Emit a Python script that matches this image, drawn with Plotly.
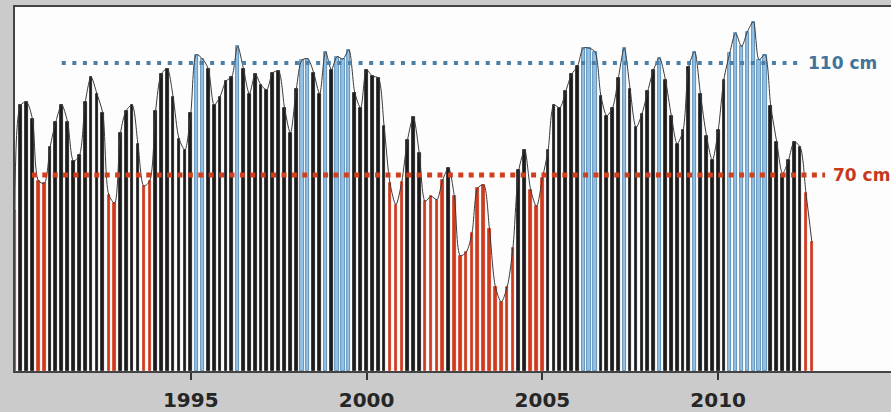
import pandas as pd
import plotly.graph_objects as go

# bimonthly water level (cm), starting Jan 1990
start_date = "1990-01-01"
levels = [
    57, 95, 96, 90, 68, 67, 80, 89, 95, 89, 75, 77,
    96, 105, 99, 92, 63, 60, 85, 93, 95, 81, 66, 68,
    93, 106, 108, 98, 83, 79, 92, 113, 111.5, 108, 95, 98,
    103.5, 105, 116, 108, 99, 106, 102, 100.5, 106.5, 107, 94, 85,
    100.6, 111, 111.5, 106.5, 99, 114, 107.6, 112.3, 111.4, 114.7, 99.4, 94,
    107.6, 105.3, 104.7, 87.6, 67, 59.4, 67.6, 82.4, 90.6, 78, 60.6, 62.4,
    61.2, 68.2, 72.4, 62.4, 41.2, 42.4, 49.4, 65.3, 66.5, 50.6, 30, 24.7,
    30, 44.1, 71.8, 78.8, 64.7, 58.8, 68.8, 78.8, 95, 94, 100, 106,
    108.8, 115.3, 115.3, 114, 98.2, 91.2, 94.1, 104.7, 115.3, 100.6, 87, 91.8,
    100, 107.6, 111.8, 104.1, 91.2, 81.2, 85.9, 108.5, 114, 98.8, 84.1, 75.3,
    85.9, 104.1, 113.5, 120.6, 115.9, 121.2, 124.7, 111.2, 113, 94.7, 81.8, 70.5,
    75.3, 81.8, 80, 63.5, 45.9,
]
high_threshold = 110
low_threshold = 70
tick_years = [1995, 2000, 2005, 2010]
tick_labels = ["1995", "2000", "2005", "2010"]

dates = pd.date_range(start_date, periods=len(levels), freq="2MS")


def yr(y):
    base = int(y)
    return pd.Timestamp(f"{base}-01-01") + pd.Timedelta(days=(y - base) * 365.25)


BLACK = "#1c1c1c"
BLUE_FILL = "#93c0e3"
BLUE_EDGE = "#4a80ad"
RED = "#cf3a1e"

fills, edges, edge_w, widths = [], [], [], []
day = 86400000
for v in levels:
    if v > high_threshold:
        fills.append(BLUE_FILL); edges.append(BLUE_EDGE); widths.append(34 * day)
    elif v < low_threshold:
        fills.append(RED); edges.append(RED); widths.append(26 * day)
    else:
        fills.append(BLACK); edges.append(BLACK); widths.append(28 * day)

fig = go.Figure()
fig.add_trace(go.Bar(
    x=dates, y=levels, width=widths,
    marker=dict(color=fills, line=dict(color=edges, width=0.8)),
    hoverinfo="skip", showlegend=False,
))
fig.add_trace(go.Scatter(
    x=dates, y=levels, mode="lines",
    line=dict(color="#3a3a3a", width=1, shape="spline", smoothing=0.8),
    hoverinfo="skip", showlegend=False,
))

fig.add_shape(type="line", xref="x", yref="y",
              x0=yr(1991.33), x1=yr(2012.27), y0=high_threshold, y1=high_threshold,
              line=dict(color="#4a7fa8", width=4, dash="4px,6.6px"))
fig.add_shape(type="line", xref="x", yref="y",
              x0=yr(1990.48), x1=yr(2013.04), y0=low_threshold, y1=low_threshold,
              line=dict(color="#d0401c", width=5, dash="5px,5.4px"))

fig.add_annotation(x=yr(2012.5), y=high_threshold, text="110 cm", showarrow=False,
                   xanchor="left", yanchor="middle",
                   font=dict(family="DejaVu Sans", size=17, color="#44739a", weight="bold"))
fig.add_annotation(x=yr(2013.22), y=low_threshold, text="70 cm", showarrow=False,
                   xanchor="left", yanchor="middle",
                   font=dict(family="DejaVu Sans", size=17, color="#c63a1c", weight="bold"))

fig.update_layout(
    width=891, height=412,
    margin=dict(l=15, r=0, t=7, b=37),
    paper_bgcolor="#cbcbcb",
    plot_bgcolor="#fdfdfd",
    bargap=0,
    xaxis=dict(
        type="date",
        range=[yr(1990.0), yr(2014.915)],
        tickvals=[yr(y) for y in tick_years],
        ticktext=tick_labels,
        ticks="outside", ticklen=7, tickwidth=2, tickcolor="#333333",
        showline=True, linecolor="#444444", linewidth=1.5, mirror=True,
        showgrid=False, zeroline=False,
        tickfont=dict(family="DejaVu Sans", size=20, color="#262626", weight="bold"),
        ticklabelstandoff=3,
    ),
    yaxis=dict(
        range=[0, 130], showline=True, linecolor="#444444", linewidth=1.5,
        showticklabels=False, showgrid=False, zeroline=False, ticks="",
    ),
)

fig.write_html(
    "out.html",
    config={"displayModeBar": False},
    post_script="document.body.style.margin='0';document.body.style.overflow='hidden';",
)
